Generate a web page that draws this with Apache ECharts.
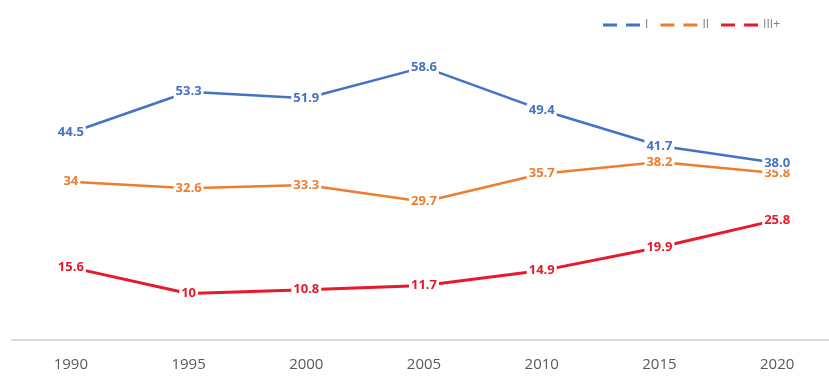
<!DOCTYPE html>
<html><head><meta charset="utf-8">
<script src="https://cdn.jsdelivr.net/npm/echarts@6/dist/echarts.min.js"></script>
<style>html,body{margin:0;padding:0;background:#fff}#c{width:829px;height:376px}</style>
</head><body><div id="c"></div>
<script>
const years = ['1990','1995','2000','2005','2010','2015','2020'];
const seriesNames = ['I','II','III+'];
const valuesI = [44.5, 53.3, 51.9, 58.6, 49.4, 41.7, 38.0];
const valuesII = [34, 32.6, 33.3, 29.7, 35.7, 38.2, 35.8];
const valuesIII = [15.6, 10, 10.8, 11.7, 14.9, 19.9, 25.8];
const labelsI = ['44.5','53.3','51.9','58.6','49.4','41.7','38.0'];
const labelsII = ['34','32.6','33.3','29.7','35.7','38.2','35.8'];
const labelsIII = ['15.6','10','10.8','11.7','14.9','19.9','25.8'];
const colors = ['#4472C4','#ED7D31','#E8192C'];

function mk(name, vals, labs, color, width, z){
  return {
    name, type:'line', data: vals, symbol:'circle', symbolSize:1, showSymbol:true,
    itemStyle:{color}, color,
    lineStyle:{color, width},
    label:{show:true, position:'inside', color, fontSize:13, fontWeight:'bold',
      fontFamily:'Open Sans', backgroundColor:'#fff', padding:[0,2],
      formatter: p => labs[p.dataIndex]},
    emphasis:{disabled:true},
    z
  };
}
const chart = echarts.init(document.getElementById('c'));
chart.setOption({
  animation:false,
  grid:{left:12, width:824, top:14, bottom:36, outerBoundsMode:'none', containLabel:false},
  legend:{
    right:44, top:14, itemGap:12, itemWidth:37, itemHeight:3,
    icon:'path://M0,0h14v3h-14z M23,0h14v3h-14z',
    textStyle:{color:'#808080', fontSize:12, fontFamily:'Open Sans'},
    data: seriesNames
  },
  xAxis:{type:'category', data: years, boundaryGap:true,
    axisLine:{lineStyle:{color:'#d9d9d9', width:2}}, axisTick:{show:false},
    axisLabel:{color:'#595959', fontSize:15, fontFamily:'Open Sans', margin:17}},
  yAxis:{type:'value', min:0, max:70, show:false, splitLine:{show:false}},
  series:[
    mk(seriesNames[0], valuesI, labelsI, colors[0], 2.5, 5),
    mk(seriesNames[1], valuesII, labelsII, colors[1], 2.5, 4),
    mk(seriesNames[2], valuesIII, labelsIII, colors[2], 3, 3)
  ]
});
</script></body></html>
